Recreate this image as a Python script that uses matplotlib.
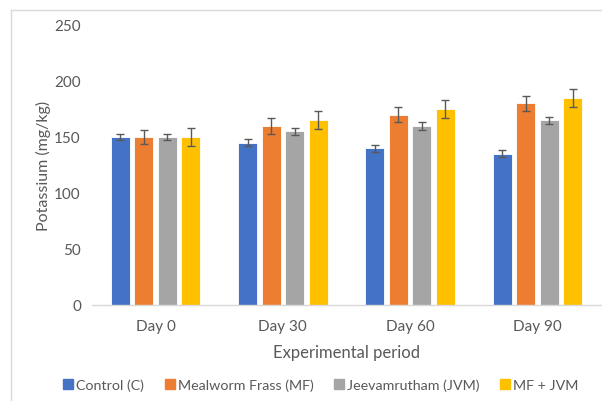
import matplotlib
matplotlib.use("Agg")
import matplotlib.pyplot as plt
import numpy as np
from matplotlib.lines import Line2D

categories = ["Day 0", "Day 30", "Day 60", "Day 90"]
series_names = ["Control (C)", "Mealworm Frass (MF)", "Jeevamrutham (JVM)", "MF + JVM"]
control = [150, 145, 140, 135]
control_err = [3, 3, 3, 3]
mf = [150, 160, 170, 180]
mf_err = [6, 7, 7, 7]
jvm = [150, 155, 160, 165]
jvm_err = [3, 3, 3.5, 3]
mfjvm = [150, 165, 175, 185]
mfjvm_err = [8, 8, 8, 8]
yticks = [0, 50, 100, 150, 200, 250]

colors = ["#4472C4", "#ED7D31", "#A5A5A5", "#FFC000"]
values = [control, mf, jvm, mfjvm]
errors = [control_err, mf_err, jvm_err, mfjvm_err]

plt.rcParams['font.family'] = ['Lato', 'DejaVu Sans']
W, H = 602, 402
fig = plt.figure(figsize=(W/100, H/100), dpi=100)

# chart border (partially visible: top and left edges)
fig.add_artist(Line2D([11/W, 11/W], [0, (H-11)/H], transform=fig.transFigure,
                      color="#D9D9D9", linewidth=1.0))
fig.add_artist(Line2D([11/W, 1], [(H-11)/H, (H-11)/H], transform=fig.transFigure,
                      color="#D9D9D9", linewidth=1.0))

ax = fig.add_axes([92/W, (H-306)/H, (601-92)/W, (306-26)/H])
x = np.arange(len(categories))
bw = 0.15
step = 0.185
offsets = (np.arange(4) - 1.5) * step
for i in range(4):
    ax.bar(x + offsets[i], values[i], width=bw, color=colors[i], edgecolor="white",
           linewidth=0.6, yerr=errors[i], error_kw=dict(ecolor="#595959", elinewidth=1.0,
           capsize=3, capthick=1.0), label=series_names[i], zorder=2)

ax.set_xlim(-0.5, 3.5)
ax.set_ylim(0, 250)
ax.set_yticks(yticks)
ax.set_xticks(x)
ax.set_xticklabels(categories)
for s in ["top", "right", "left"]:
    ax.spines[s].set_visible(False)
ax.spines["bottom"].set_color("#D9D9D9")
ax.spines["bottom"].set_linewidth(1.0)
ax.tick_params(axis="both", length=0, colors="#595959", labelsize=11)
ax.tick_params(axis="y", pad=8)
ax.tick_params(axis="x", pad=10)
ax.set_ylabel("Potassium (mg/kg)", fontsize=11.5, color="#595959", labelpad=2)
ax.set_xlabel("Experimental period", fontsize=12, color="#595959", labelpad=8)

handles = [Line2D([], [], marker="s", linestyle="none", markersize=7, markerfacecolor=c,
                  markeredgecolor=c) for c in colors]
fig.legend(handles, series_names, loc="center", bbox_to_anchor=(320/W, (H-386)/H), ncol=4,
           frameon=False, fontsize=10.3, handletextpad=0.05, columnspacing=1.3,
           labelcolor="#595959", handlelength=1.0)

fig.savefig("out.png", dpi=100)
